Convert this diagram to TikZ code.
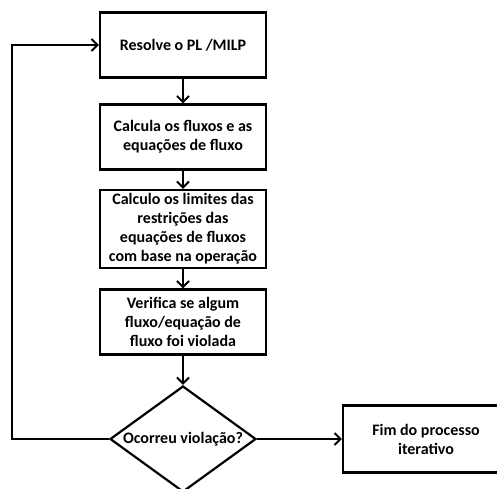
\documentclass[tikz,border=0pt]{standalone}
\usepackage{fontspec}
\setmainfont{Carlito}
\usetikzlibrary{shapes,arrows.meta}

\begin{document}
\begin{tikzpicture}[
    x=1pt, y=1pt,
    node distance=92pt,
    block/.style={rectangle, draw, line width=2.2pt, fill=white, text width=160pt, align=flush center, minimum width=166pt, minimum height=65pt, inner xsep=0pt, inner ysep=1pt, font=\fontsize{16}{19}\selectfont\bfseries},
    decision/.style={diamond, draw, line width=2.2pt, fill=white, aspect=1.4, minimum width=146pt, minimum height=106pt, inner sep=1pt, font=\fontsize{16}{19}\selectfont\bfseries},
    line/.style={draw, line width=2.2pt, -{Straight Barb[length=6pt, width=12pt, line width=2pt]}}
]
    \useasboundingbox (0,0) rectangle (497,-488);

    % Iteration steps
    \node [block] (solve) at (183,-45) {Resolve o PL /MILP};
    \node [block, below of=solve] (flows) {Calcula os fluxos e as\\equações de fluxo};
    \node [block, below of=flows, node distance=92pt, minimum height=78pt] (limits) {Calculo os limites das\\restrições das\\equações de fluxos\\com base na operação};
    \node [block, below of=limits, node distance=93pt] (verify) {Verifica se algum\\fluxo/equação de\\fluxo foi violada};

    % Decision and end
    \node [decision, below of=verify, node distance=117pt] (check) {Ocorreu violação?};
    \node [block, right of=check, node distance=243pt, minimum height=67pt] (stop) {Fim do processo\\iterativo};

    % Paths
    \path [line] (solve) -- (flows);
    \path [line] (flows) -- (limits);
    \path [line] (limits) -- (verify);
    \path [line] (verify) -- (check);
    \path [line] (check) -- (stop);
    \path [line] (check.west) -| ([xshift=-87pt]solve.west) -- (solve.west);

\end{tikzpicture}
\end{document}
